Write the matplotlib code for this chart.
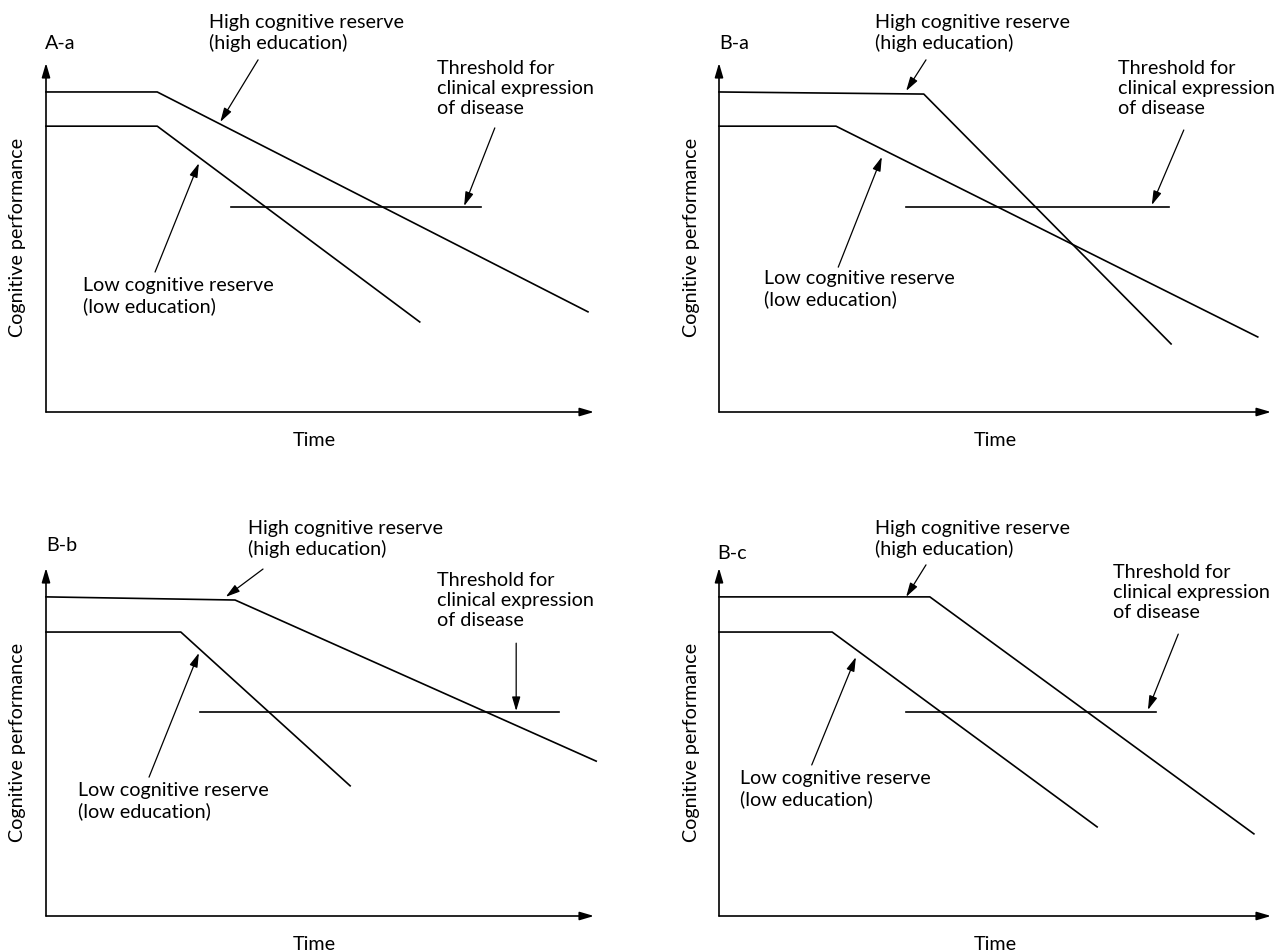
import matplotlib
matplotlib.use('Agg')
import matplotlib.pyplot as plt

# ---- data (x: time, y: cognitive performance, arbitrary 0-100 units) ----
panels = ['A-a', 'B-a', 'B-b', 'B-c']

high_x = [[0, 20.3, 98.9], [0, 37.1, 81.9], [0, 34.5, 100.4], [0, 38.2, 96.9]]
high_y = [[91.7, 91.7, 28.7], [91.7, 91.1, 19.5], [91.7, 90.8, 44.5], [91.7, 91.7, 23.6]]

low_x = [[0, 20.3, 68.2], [0, 21.2, 97.6], [0, 24.6, 55.5], [0, 20.5, 68.5]]
low_y = [[81.9, 81.9, 25.8], [81.9, 81.9, 21.5], [81.6, 81.6, 37.4], [81.6, 81.6, 25.6]]

thresh_x = [[33.8, 79.4], [33.9, 81.5], [28.1, 93.6], [33.9, 79.2]]
thresh_y = [58.7, 58.7, 58.6, 58.6]

high_text = 'High cognitive reserve\n(high education)'
low_text = 'Low cognitive reserve\n(low education)'
thresh_text = 'Threshold for\nclinical expression\nof disease'

# ---- layout (pixel boxes of each axis frame: left, top, width, height) ----
boxes = [(46, 63, 548, 349), (719, 63, 552, 349), (46, 568, 548, 348), (719, 568, 552, 348)]

title_pos = [(-0.2, 105.7), (0, 105.7), (0, 106.6), (-0.4, 104.3)]
high_lbl = [(29.7, 114.0), (28.3, 114.0), (36.9, 113.8), (28.3, 113.8)]
low_lbl = [(6.8, 38.6), (8.2, 40.6), (5.8, 38.5), (3.8, 41.9)]
thr_lbl = [(71.4, 100.8), (72.3, 100.8), (71.4, 98.8), (71.4, 101.1)]
# arrows: (tail, head)
high_arr = [((38.7, 100.9), (31.8, 83.1)), ((37.5, 100.9), (33.9, 92.0)),
            ((39.6, 99.7), (32.8, 91.7)), ((37.5, 100.9), (33.9, 91.7))]
low_arr = [((19.9, 40.1), (27.9, 71.3)), ((21.6, 41.5), (29.5, 73.1)),
           ((18.8, 39.9), (27.9, 75.6)), ((16.8, 43.4), (24.8, 74.4))]
thr_arr = [((81.9, 81.4), (76.3, 59.0)), ((84.2, 80.8), (78.4, 59.3)),
           ((85.8, 78.4), (85.8, 58.9)), ((83.2, 81.0), (77.7, 59.2))]

plt.rcParams['font.family'] = ['Lato', 'DejaVu Sans']
FS = 14.2
LW = 1.2
head = dict(arrowstyle='-|>,head_length=0.85,head_width=0.25', color='black',
            lw=0.9, mutation_scale=10, shrinkA=0, shrinkB=0)

W, H = 1275, 952
fig = plt.figure(figsize=(W / 100, H / 100), dpi=100)

for i, name in enumerate(panels):
    l, t, w, h = boxes[i]
    ax = fig.add_axes([l / W, 1 - (t + h) / H, w / W, h / H])
    ax.set_xlim(0, 100)
    ax.set_ylim(0, 100)
    ax.axis('off')

    # axis arrows
    axis_head = dict(head, lw=LW)
    ax.annotate('', xy=(1, 0), xytext=(0, 0), xycoords='axes fraction',
                arrowprops=axis_head, annotation_clip=False)
    ax.annotate('', xy=(0, 1), xytext=(0, 0), xycoords='axes fraction',
                arrowprops=axis_head, annotation_clip=False)

    ax.plot(high_x[i], high_y[i], color='black', lw=LW, clip_on=False)
    ax.plot(low_x[i], low_y[i], color='black', lw=LW, clip_on=False)
    ax.plot(thresh_x[i], [thresh_y[i]] * 2, color='black', lw=LW, clip_on=False)

    ax.text(*title_pos[i], name, fontsize=FS, ha='left', va='center', clip_on=False)
    ax.text(*high_lbl[i], high_text, fontsize=FS, ha='left', va='top', linespacing=1.2, clip_on=False)
    ax.text(*low_lbl[i], low_text, fontsize=FS, ha='left', va='top', linespacing=1.2, clip_on=False)
    ax.text(*thr_lbl[i], thresh_text, fontsize=FS, ha='left', va='top', linespacing=1.2, clip_on=False)

    for tail, tip in (high_arr[i], low_arr[i], thr_arr[i]):
        ax.annotate('', xy=tip, xytext=tail, arrowprops=head, annotation_clip=False)

    ax.text(-28 / w, 0.5, 'Cognitive performance', transform=ax.transAxes, rotation=90,
            fontsize=FS, ha='center', va='center')
    ax.text(0.49 if i % 2 == 0 else 0.5, -28 / h, 'Time', transform=ax.transAxes,
            fontsize=FS, ha='center', va='center')

fig.savefig('out.png', dpi=100, facecolor='white')
